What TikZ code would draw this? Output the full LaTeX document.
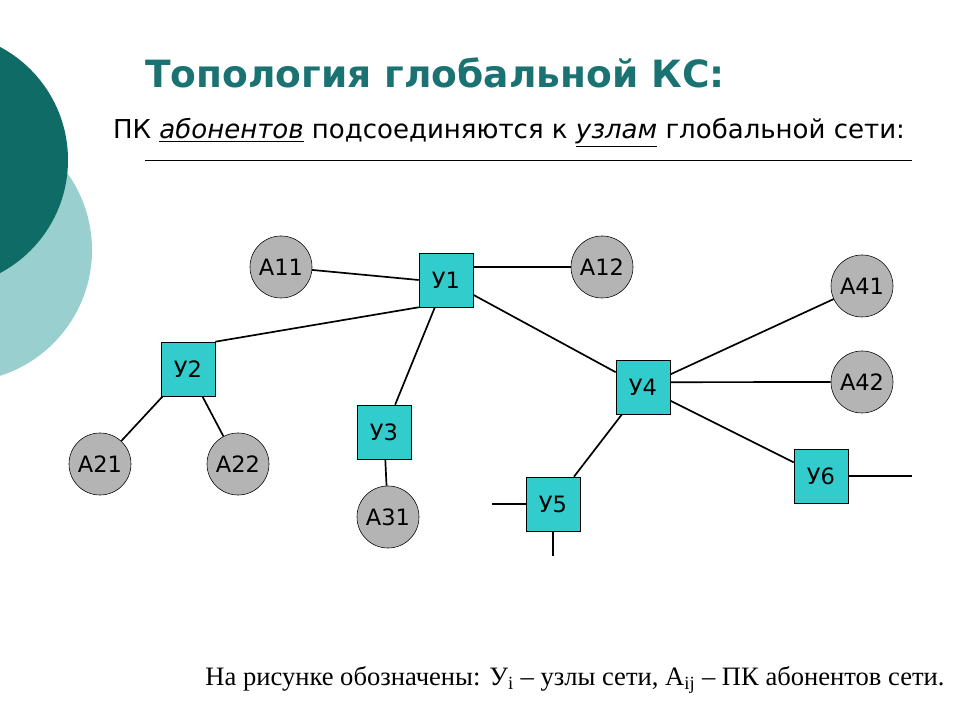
\documentclass[tikz,border=0pt]{standalone}
\usepackage{fontspec}
\setmainfont{DejaVu Sans}
\newfontfamily\serifm{Liberation Serif}
\definecolor{teal1}{HTML}{0E6B66}
\definecolor{teal2}{HTML}{9ACFCF}
\definecolor{cyanbox}{HTML}{33CCCC}
\definecolor{grayc}{HTML}{B4B4B4}
\definecolor{titlec}{HTML}{1A7272}
\begin{document}
\begin{tikzpicture}[x=0.025cm,y=-0.025cm,
  ubox/.style={draw,fill=cyanbox,minimum size=1.35cm,inner sep=0pt,font=\fontsize{16}{18}\selectfont},
  acirc/.style={draw,circle,fill=grayc,minimum size=1.55cm,inner sep=0pt,font=\fontsize{16}{18}\selectfont},
  lnk/.style={line width=1.2pt}]
\useasboundingbox (0,0) rectangle (960,720);
\begin{scope}
\clip (0,0) rectangle (960,720);
\fill[teal2] (-40,250) circle (132);
\fill[teal1] (-60,160) circle (128);
\end{scope}
\node[font=\bfseries\fontsize{26.7}{30}\selectfont,text=titlec] (title) at (435,73) {Топология глобальной КС:};
\node[font=\fontsize{18.5}{22}\selectfont] (sub) at (509,133) {ПК \underline{\textit{абонентов}} подсоединяются к \underline{\textit{узлам}} глобальной сети:};
\draw[line width=0.5pt] (145,160) coordinate (l1) -- (912,160) coordinate (l2);
\node[ubox] (u1) at (446,280) {У1};
\node[ubox] (u2) at (188,369) {У2};
\node[ubox] (u3) at (384,432) {У3};
\node[ubox] (u4) at (643,387) {У4};
\node[ubox] (u5) at (553,504) {У5};
\node[ubox] (u6) at (821,476) {У6};
\node[acirc] (a11) at (281,267) {А11};
\node[acirc] (a12) at (602,267) {А12};
\node[acirc] (a41) at (862,286) {А41};
\node[acirc] (a42) at (862,382) {А42};
\node[acirc] (a21) at (100,464) {А21};
\node[acirc] (a22) at (238,464) {А22};
\node[acirc] (a31) at (388,517) {А31};
\coordinate (s1) at (492,504);
\coordinate (s2) at (553,556);
\coordinate (s3) at (912,476);
\draw[lnk] (a11) -- (u1.west);
\draw[lnk] (u1.east |- a12) -- (a12);
\draw[lnk] (u1.south west) -- (u2.north east);
\draw[lnk] (u1) -- (u3);
\draw[lnk] (u1) -- (u4);
\draw[lnk] (u2) -- (a21);
\draw[lnk] (u2) -- (a22);
\draw[lnk] (u3) -- (a31);
\draw[lnk] (u4) -- (a41);
\draw[lnk] ([yshift=0.12cm]u4.east) -- (a42.west);
\draw[lnk] (u4) -- (u6);
\draw[lnk] (u4) -- (u5);
\draw[lnk] (u5.west) -- (s1);
\draw[lnk] (u5) -- (s2);
\draw[lnk] (u6) -- (s3);
\node[font=\serifm\fontsize{18.9}{22}\selectfont] (cap) at (575,680) {На рисунке обозначены: У\textsubscript{i} – узлы сети, А\textsubscript{ij} – ПК абонентов сети.};
\end{tikzpicture}
\end{document}
